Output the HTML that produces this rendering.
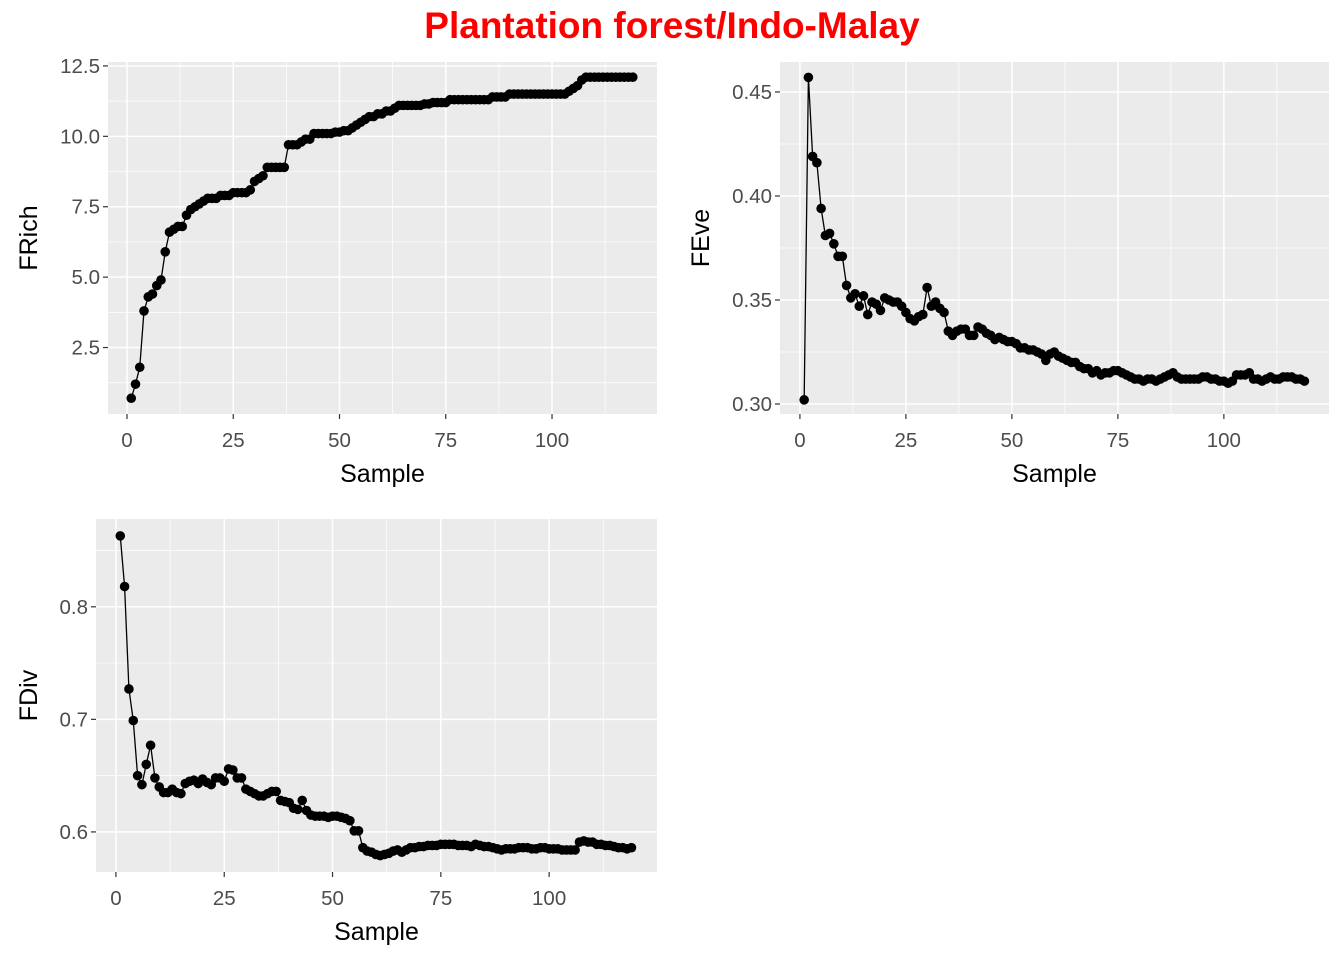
<!DOCTYPE html>
<html><head><meta charset="utf-8"><style>
body{margin:0;background:#fff;font-family:"Liberation Sans",sans-serif}
</style></head><body>
<svg id="chart" width="1344" height="960" xmlns="http://www.w3.org/2000/svg" font-family="Liberation Sans, sans-serif">
<rect width="1344" height="960" fill="#fff"/>
<text x="672" y="38" text-anchor="middle" font-size="37" font-weight="bold" fill="#ff0000">Plantation forest/Indo-Malay</text>
</svg>
<script>
const frich=[0.7,1.2,1.8,3.8,4.3,4.4,4.7,4.9,5.9,6.6,6.7,6.8,6.8,7.2,7.4,7.5,7.6,7.7,7.8,7.8,7.8,7.9,7.9,7.9,8.0,8.0,8.0,8.0,8.1,8.4,8.5,8.6,8.9,8.9,8.9,8.9,8.9,9.7,9.7,9.7,9.8,9.9,9.9,10.1,10.1,10.1,10.1,10.1,10.15,10.15,10.2,10.2,10.3,10.4,10.5,10.6,10.7,10.7,10.8,10.8,10.9,10.9,11.0,11.1,11.1,11.1,11.1,11.1,11.1,11.15,11.15,11.2,11.2,11.2,11.2,11.3,11.3,11.3,11.3,11.3,11.3,11.3,11.3,11.3,11.3,11.4,11.4,11.4,11.4,11.5,11.5,11.5,11.5,11.5,11.5,11.5,11.5,11.5,11.5,11.5,11.5,11.5,11.5,11.6,11.7,11.8,12.0,12.1,12.1,12.1,12.1,12.1,12.1,12.1,12.1,12.1,12.1,12.1,12.1];
const feve=[0.302,0.457,0.419,0.416,0.394,0.381,0.382,0.377,0.371,0.371,0.357,0.351,0.353,0.347,0.352,0.343,0.349,0.348,0.345,0.351,0.350,0.349,0.349,0.347,0.344,0.341,0.340,0.342,0.343,0.356,0.347,0.349,0.346,0.344,0.335,0.333,0.335,0.336,0.336,0.333,0.333,0.337,0.336,0.334,0.333,0.331,0.332,0.331,0.330,0.330,0.329,0.327,0.327,0.326,0.326,0.325,0.324,0.321,0.324,0.325,0.323,0.322,0.321,0.320,0.320,0.318,0.317,0.317,0.315,0.316,0.314,0.315,0.315,0.316,0.316,0.315,0.314,0.313,0.312,0.312,0.311,0.312,0.312,0.311,0.312,0.313,0.314,0.315,0.313,0.312,0.312,0.312,0.312,0.312,0.313,0.313,0.312,0.312,0.311,0.311,0.310,0.311,0.314,0.314,0.314,0.315,0.312,0.312,0.311,0.312,0.313,0.312,0.312,0.313,0.313,0.313,0.312,0.312,0.311];
const fdiv=[0.863,0.818,0.727,0.699,0.650,0.642,0.660,0.677,0.648,0.640,0.635,0.635,0.638,0.635,0.634,0.643,0.645,0.646,0.643,0.647,0.644,0.642,0.648,0.648,0.645,0.656,0.655,0.648,0.648,0.638,0.636,0.634,0.632,0.632,0.634,0.636,0.636,0.628,0.627,0.626,0.621,0.620,0.628,0.619,0.615,0.614,0.614,0.614,0.613,0.614,0.614,0.613,0.612,0.610,0.601,0.601,0.586,0.583,0.582,0.580,0.579,0.580,0.581,0.583,0.584,0.582,0.584,0.586,0.586,0.587,0.587,0.588,0.588,0.588,0.589,0.589,0.589,0.589,0.588,0.588,0.588,0.587,0.589,0.588,0.587,0.587,0.586,0.585,0.584,0.585,0.585,0.585,0.586,0.586,0.586,0.585,0.585,0.586,0.586,0.585,0.585,0.585,0.584,0.584,0.584,0.584,0.591,0.592,0.591,0.591,0.589,0.589,0.588,0.588,0.587,0.586,0.586,0.585,0.586];
const xTicks=[0,25,50,75,100];
const richTicks=[2.5,5.0,7.5,10.0,12.5];
const eveTicks=[0.30,0.35,0.40,0.45];
const divTicks=[0.6,0.7,0.8];

const NS='http://www.w3.org/2000/svg';
const svg=document.getElementById('chart');
function mk(tag,attrs,parent){const e=document.createElementNS(NS,tag);for(const k in attrs)e.setAttribute(k,attrs[k]);(parent||svg).appendChild(e);return e;}

function panel(p){
  const g=mk('g',{});
  
  
  const sx=v=>p.x0+(v-p.xmin)/(p.xmax-p.xmin)*(p.x1-p.x0);
  const sy=v=>p.y1-(v-p.ymin)/(p.ymax-p.ymin)*(p.y1-p.y0);
  const bg=mk('rect',{x:p.x0,y:p.y0,width:p.x1-p.x0,height:p.y1-p.y0,fill:'#ebebeb'},g);
  
  
  const xs=xTicks, st=xs[1]-xs[0];
  for(let i=0;i<xs.length+1;i++){const v=xs[0]-st/2+i*st;const X=sx(v);if(X>p.x0&&X<p.x1)mk('line',{x1:X,x2:X,y1:p.y0,y2:p.y1,stroke:'#fff','stroke-width':0.7},g);}
  const ys=p.ticks, ys_st=ys[1]-ys[0];
  for(let i=0;i<ys.length+1;i++){const v=ys[0]-ys_st/2+i*ys_st;const Y=sy(v);if(Y>p.y0&&Y<p.y1)mk('line',{x1:p.x0,x2:p.x1,y1:Y,y2:Y,stroke:'#fff','stroke-width':0.7},g);}
  xs.forEach(v=>{const X=sx(v);mk('line',{x1:X,x2:X,y1:p.y0,y2:p.y1,stroke:'#fff','stroke-width':1.5},g);
    mk('line',{x1:X,x2:X,y1:p.y1,y2:p.y1+5,stroke:'#333','stroke-width':1.2},g);
    const t=mk('text',{x:X,y:p.y1+33,'text-anchor':'middle','font-size':20.5,fill:'#4d4d4d'},g);t.textContent=v;
    
    });
  ys.forEach(v=>{const Y=sy(v);mk('line',{x1:p.x0,x2:p.x1,y1:Y,y2:Y,stroke:'#fff','stroke-width':1.5},g);
    mk('line',{x1:p.x0-5,x2:p.x0,y1:Y,y2:Y,stroke:'#333','stroke-width':1.2},g);
    const t=mk('text',{x:p.x0-8,y:Y+7,'text-anchor':'end','font-size':20.5,fill:'#4d4d4d'},g);t.textContent=v.toFixed(p.dec);
    
    });
  const pts=p.data.map((v,i)=>sx(i+1)+','+sy(v)).join(' ');
  const l=mk('polyline',{points:pts,fill:'none',stroke:'#000','stroke-width':1.3},g);
  
  
  p.data.forEach((v,i)=>{const c=mk('circle',{cx:sx(i+1),cy:sy(v),r:4.8,fill:'#000'},g);
    
    });
  const xt=mk('text',{x:(p.x0+p.x1)/2,y:p.y1+68,'text-anchor':'middle','font-size':25,fill:'#000'},g);xt.textContent='Sample';
  
  
  const yt=mk('text',{x:0,y:0,'text-anchor':'middle','font-size':25,fill:'#000',transform:`translate(${p.ytx},${(p.y0+p.y1)/2}) rotate(-90)`},g);yt.textContent=p.title;
  
  
}
panel({name:'frich',data:frich,ticks:richTicks,dec:1,title:'FRich',x0:108,x1:657,y0:62,y1:414,xmin:-4.47,xmax:124.7,ymin:0.14,ymax:12.64,ytx:37});
panel({name:'feve',data:feve,ticks:eveTicks,dec:2,title:'FEve',x0:780,x1:1329,y0:62,y1:414,xmin:-4.7,xmax:124.8,ymin:0.2952,ymax:0.4644,ytx:709});
panel({name:'fdiv',data:fdiv,ticks:divTicks,dec:1,title:'FDiv',x0:96,x1:657,y0:519,y1:872,xmin:-4.6,xmax:124.9,ymin:0.5644,ymax:0.878,ytx:37});
</script>
</body></html>
